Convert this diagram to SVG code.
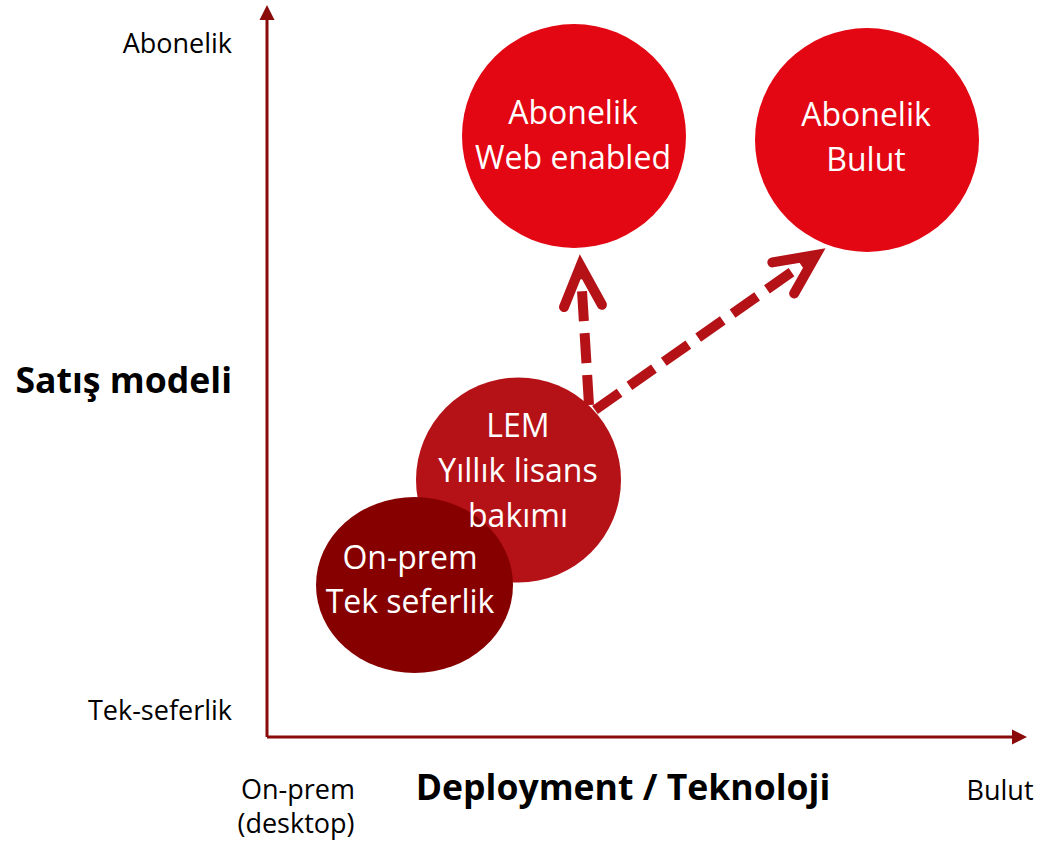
<svg xmlns="http://www.w3.org/2000/svg" width="1038" height="845" viewBox="0 0 1038 845">
<style>
  .lbl { font-family: "Open Sans", "Noto Sans", sans-serif; font-size: 27px; fill: #000; }
  .ttl { font-family: "Open Sans", "Noto Sans", sans-serif; font-size: 35.6px; font-weight: bold; fill: #000; }
  .ct { font-family: "Open Sans", "Noto Sans", sans-serif; font-size: 32px; fill: #fff; text-anchor: middle; }
  .axis { stroke: #8B0A0A; stroke-width: 3; fill: none; }
  .axhead { fill: #8B0A0A; }
  .dash { stroke: #B51218; stroke-width: 10; fill: none; stroke-dasharray: 30 12; }
</style>
<defs>
  <marker id="chev" markerUnits="userSpaceOnUse" orient="auto" refX="0" refY="0" markerWidth="60" markerHeight="60" overflow="visible">
    <path d="M-40,-19 L0,0 L-40,19" fill="none" stroke="#B51218" stroke-width="10" stroke-linecap="round" stroke-linejoin="miter"/>
  </marker>
</defs>
<rect width="1038" height="845" fill="#fff"/>

<g id="axes">
  <path class="axis" d="M267,737 L267,18 M267,737 L1013,737"/>
  <polygon class="axhead" points="267,5 259.5,20 274.5,20"/>
  <polygon class="axhead" points="1027,737 1012,729.5 1012,744.5"/>
</g>

<g id="axis-labels">
  <text class="lbl" x="232" y="53" text-anchor="end">Abonelik</text>
  <text class="ttl" x="232" y="393" text-anchor="end">Satış modeli</text>
  <text class="lbl" x="232" y="720" text-anchor="end">Tek-seferlik</text>
  <text class="lbl" x="298" y="799" text-anchor="middle">On-prem</text>
  <text class="lbl" x="296" y="833" text-anchor="middle">(desktop)</text>
  <text class="ttl" x="623" y="800" text-anchor="middle">Deployment / Teknoloji</text>
  <text class="lbl" x="1000" y="800" text-anchor="middle">Bulut</text>
</g>

<g id="node-web">
  <circle cx="574" cy="136" r="112" fill="#E30613"/>
  <text class="ct" x="573" y="124">Abonelik</text>
  <text class="ct" x="573" y="169">Web enabled</text>
</g>

<g id="node-bulut">
  <circle cx="867" cy="140" r="112" fill="#E30613"/>
  <text class="ct" x="866" y="126">Abonelik</text>
  <text class="ct" x="866" y="171">Bulut</text>
</g>

<g id="node-lem">
  <circle cx="518.5" cy="480" r="102.5" fill="#B51218"/>
</g>

<g id="node-onprem">
  <ellipse cx="414.5" cy="585" rx="98.5" ry="88" fill="#870000"/>
  <text class="ct" x="410" y="569">On-prem</text>
  <text class="ct" x="410" y="613">Tek seferlik</text>
</g>

<g id="node-lem-label">
  <text class="ct" x="518" y="437">LEM</text>
  <text class="ct" x="518" y="482">Yıllık lisans</text>
  <text class="ct" x="518" y="527">bakımı</text>
</g>

<g id="connectors">
  <path class="dash" d="M589,405 L580.5,266" marker-end="url(#chev)"/>
  <path class="dash" d="M595,410 L816,255" marker-end="url(#chev)"/>
</g>
</svg>
